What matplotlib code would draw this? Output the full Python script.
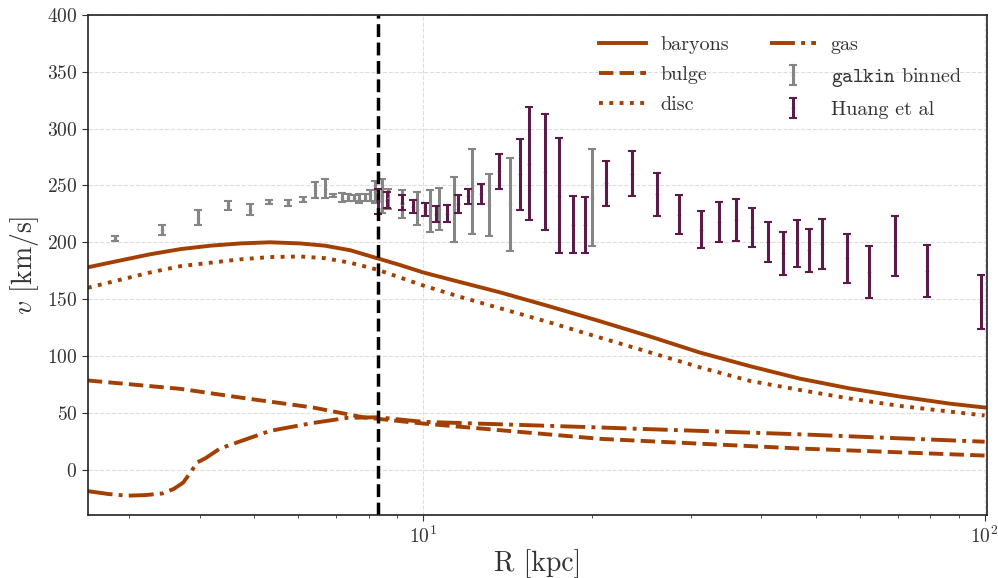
import matplotlib
matplotlib.use("Agg")
import matplotlib.pyplot as plt
import numpy as np

plt.rcParams['font.family'] = 'serif'
plt.rcParams['font.serif'] = ['cmr10']
plt.rcParams['mathtext.fontset'] = 'cm'
plt.rcParams['axes.formatter.use_mathtext'] = True
plt.rcParams['text.color'] = '#333333'
plt.rcParams['axes.labelcolor'] = '#333333'
plt.rcParams['xtick.color'] = '#333333'
plt.rcParams['ytick.color'] = '#333333'

# model curves
r_bar = [2.53, 2.89, 3.27, 3.70, 4.18, 4.73, 5.34, 6.04, 6.69, 7.42, 8.28, 9.10,
         10, 11.64, 13.7, 16.8, 20.7, 25.4, 31.1, 38.2, 46.9, 57.5, 70.6, 86.7, 100]
v_baryons = [178, 184, 189.5, 194, 197, 199, 200, 199, 197, 193, 186, 180,
             173.5, 165, 156, 143.6, 130.4, 117, 103, 91, 80, 71.4, 64.3, 58, 54.6]
v_disc = [160, 167, 173.5, 179, 182, 185, 187, 187.5, 186, 182, 176, 169,
          162, 152, 142, 129.5, 116, 103, 90, 78, 70, 62.5, 56, 51, 47.6]

r_bulge = [2.53, 3.7, 4.86, 6.37, 7.82, 10, 20.7, 46.9, 100]
v_bulge = [78.4, 71, 62.5, 54.6, 46, 40.5, 27, 18.5, 12.3]

r_gas = [2.53, 2.75, 2.97, 3.2, 3.44, 3.6, 3.74, 3.85, 3.96, 4.1, 4.35, 4.8,
         5.34, 5.9, 6.37, 7.33, 8.3, 10, 20.7, 46.9, 100]
v_gas = [-19, -21.5, -23, -22.5, -21, -17, -11.5, -3, 6.2, 10, 18.5, 26,
         34, 38, 41, 45.5, 46, 42, 37, 31, 24.5]

r_sun = 8.3

# galkin binned
r_galkin = [2.83, 3.43, 3.98, 4.50, 4.92, 5.32, 5.76, 6.12, 6.43, 6.69, 6.92,
            7.16, 7.36, 7.52, 7.70, 7.88, 8.05, 8.22, 8.44, 8.67, 9.17, 9.77,
            10.29, 10.69, 11.35, 12.24, 13.12, 14.28, 20.0]
v_galkin = [203.2, 211, 221.4, 232.6, 228.8, 235.5, 234.6, 237.6, 245.8, 247.3,
            241.4, 239.4, 239.4, 239, 238.5, 239.4, 241.4, 244.3, 240.5, 238,
            233.5, 229.7, 227.5, 229, 229, 245, 233, 233.5, 239]
e_galkin = [2.5, 4.3, 6.6, 4, 4.5, 2, 3, 2, 7, 8, 1.5, 4, 3, 3, 4, 3, 5, 9.5,
            15, 9, 12.3, 14.7, 18.3, 18.5, 28.6, 37.4, 27.5, 41, 42.7]

# Huang et al
r_huang = [8.33, 8.64, 9.19, 9.61, 10.08, 10.55, 11.02, 11.55, 12.04, 12.68,
           13.67, 14.88, 15.46, 16.48, 17.48, 18.46, 19.42, 21.17, 23.6, 26.1,
           28.56, 31.2, 33.6, 36.1, 38.6, 41.2, 43.7, 46.3, 48.6, 51.3, 56.9,
           62.2, 69.2, 78.9, 98.6]
v_huang = [236.3, 237.4, 234.8, 231.4, 228.8, 224.8, 225.3, 233.6, 240.3, 242.3,
           262.3, 259.7, 269.3, 261.7, 241, 215.6, 215.2, 252, 260.2, 242.3,
           224.2, 211.2, 217.9, 219.5, 213.2, 200.1, 190.3, 199.1, 193, 198.8,
           185.9, 173.8, 196.5, 174.9, 147.6]
e_huang = [11, 6.9, 6.6, 5.6, 5.9, 6.9, 7.3, 7.8, 6.2, 8.8, 15, 31, 50, 51,
           50.4, 25, 24.7, 19.7, 19.7, 18.8, 17.2, 16.4, 17.6, 18.4, 17.3, 17.8,
           18.8, 20.9, 19.1, 22, 21.7, 22.9, 26.4, 23, 23.6]

orange = '#a33f00'
purple = '#5c1a48'
grey = '#858585'

fig = plt.figure(figsize=(9.98, 5.78), dpi=100)
ax = fig.add_axes([0.088, 0.109, 0.901, 0.865])

lw = 2.8
ax.plot(r_bar, v_baryons, color=orange, lw=lw, ls='-', label='baryons')
ax.plot(r_bulge, v_bulge, color=orange, lw=lw, ls='--', label='bulge')
ax.plot(r_bar, v_disc, color=orange, lw=lw, ls=':', label='disc')
ax.plot(r_gas, v_gas, color=orange, lw=lw, ls='-.', label='gas')

ax.errorbar(r_galkin, v_galkin, yerr=e_galkin, fmt='.', ms=3, color=grey,
            ecolor=grey, elinewidth=2.2, capsize=3, capthick=1.5,
            label=r'$\mathtt{galkin}$ binned')
ax.errorbar(r_huang, v_huang, yerr=e_huang, fmt='.', ms=3, color=purple,
            ecolor=purple, elinewidth=2.2, capsize=3, capthick=1.5,
            label='Huang et al')

ax.axvline(r_sun, color='black', lw=2.5, ls='--')

ax.set_xscale('log')
ax.set_xlim(2.53, 101)
ax.set_ylim(-40, 400)
ax.set_yticks(np.arange(0, 401, 50))

ax.grid(True, which='major', ls='--', color='#dddddd', lw=0.8)
ax.tick_params(axis='both', which='major', labelsize=14, length=4)
ax.tick_params(axis='x', which='minor', length=2.5)

ax.set_xlabel('R [kpc]', fontsize=20, labelpad=2)
ax.set_ylabel(r'$v$ [km/s]', fontsize=20, labelpad=4)

for s in ax.spines.values():
    s.set_color('#222222')
    s.set_linewidth(1.2)

ax.legend(loc='upper right', ncol=2, frameon=False, fontsize=14.5,
          handlelength=2.3, handletextpad=0.75, columnspacing=2.0,
          labelspacing=0.6, bbox_to_anchor=(0.992, 0.995))

fig.savefig('out.png', dpi=100)
